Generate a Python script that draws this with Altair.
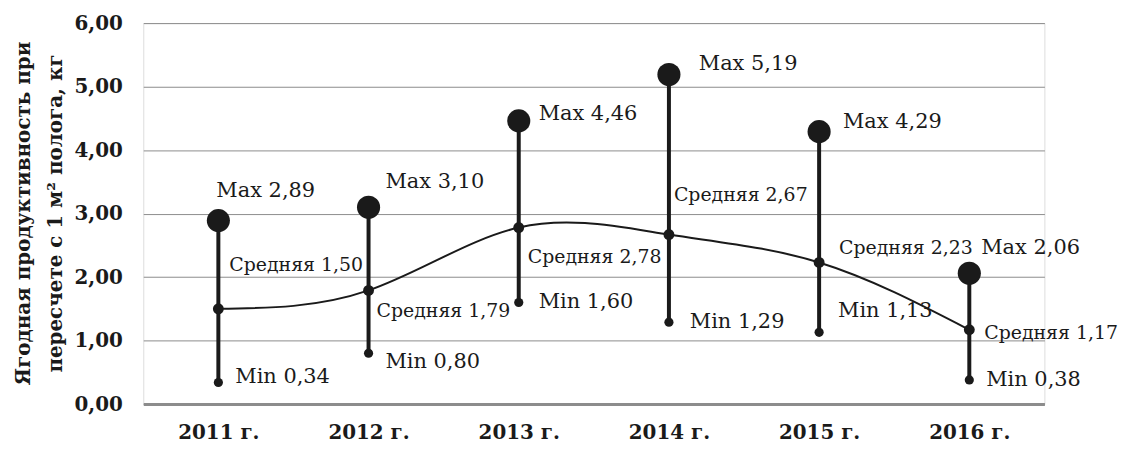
import altair as alt
import pandas as pd

years = ["2011 г.", "2012 г.", "2013 г.", "2014 г.", "2015 г.", "2016 г."]
max_vals = [2.89, 3.10, 4.46, 5.19, 4.29, 2.06]
mean_vals = [1.50, 1.79, 2.78, 2.67, 2.23, 1.17]
min_vals = [0.34, 0.80, 1.60, 1.29, 1.13, 0.38]
y_ticks = [0, 1, 2, 3, 4, 5, 6]


def fmt(v):
    return f"{v:.2f}".replace(".", ",")


df = pd.DataFrame({
    "year": years,
    "max": max_vals,
    "mean": mean_vals,
    "min": min_vals,
    "max_lbl": [f"Max {fmt(v)}" for v in max_vals],
    "mean_lbl": [f"Средняя {fmt(v)}" for v in mean_vals],
    "min_lbl": [f"Min {fmt(v)}" for v in min_vals],
})

INK = "#1a1a1a"
SERIF = "DejaVu Serif"

x_enc = alt.X(
    "year:N",
    sort=years,
    scale=alt.Scale(type="point", padding=0.5),
    axis=alt.Axis(
        title=None, labelAngle=0, ticks=False, domain=True,
        domainColor="#8c8c8c", domainWidth=3,
        labelFont=SERIF, labelFontWeight="bold", labelFontSize=20,
        labelColor=INK, labelPadding=19, labelBaseline="top",
    ),
)
y_scale = alt.Scale(domain=[0, 6], nice=False)
y_axis = alt.Axis(
    values=y_ticks,
    title=["Ягодная продуктивность при", "пересчете с 1 м² полога, кг"],
    titleFont=SERIF, titleFontWeight="bold", titleFontSize=20,
    titleColor=INK, titleLineHeight=32, titleX=-130, titleY=191,
    titleAlign="center", titleBaseline="top", titleAngle=-90,
    labelExpr="replace(format(datum.value, '.2f'), '.', ',')",
    labelFont=SERIF, labelFontWeight="bold", labelFontSize=20,
    labelColor=INK, labelPadding=21,
    ticks=False, domain=False, grid=True,
    gridColor="#8c8c8c", gridWidth=1,
)

base = alt.Chart(df)

rules = base.mark_rule(color=INK, strokeWidth=4).encode(
    x=x_enc,
    y=alt.Y("min:Q", scale=y_scale, axis=y_axis),
    y2="max:Q",
)
curve = base.mark_line(color=INK, strokeWidth=2, interpolate="natural").encode(
    x=x_enc, y=alt.Y("mean:Q", scale=y_scale)
)
max_pts = base.mark_circle(color=INK, opacity=1, size=540).encode(
    x=x_enc, y=alt.Y("max:Q", scale=y_scale)
)
mean_pts = base.mark_circle(color=INK, opacity=1, size=120).encode(
    x=x_enc, y=alt.Y("mean:Q", scale=y_scale)
)
min_pts = base.mark_circle(color=INK, opacity=1, size=85).encode(
    x=x_enc, y=alt.Y("min:Q", scale=y_scale)
)

# label offsets (dx, dy) per year, as placed in the original
offsets = {
    "max": [(-2, -30), (17, -25), (20, -7), (30, -11), (24, -10), (12, -25)],
    "mean": [(11, -44), (8, 21), (9, 30), (5, -40), (20, -15), (15, 3)],
    "min": [(17, -5), (17, 9), (20, 0), (21, 0), (19, -21), (17, 0)],
}
font_sizes = {"max": 21, "mean": 19, "min": 21}

text_layers = []
for key in ["max", "mean", "min"]:
    for i, yr in enumerate(years):
        dx, dy = offsets[key][i]
        t = base.transform_filter(alt.datum.year == yr).mark_text(
            align="left", baseline="middle", dx=dx, dy=dy,
            font=SERIF, fontSize=font_sizes[key], color=INK,
        ).encode(
            x=x_enc,
            y=alt.Y(f"{key}:Q", scale=y_scale),
            text=f"{key}_lbl:N",
        )
        text_layers.append(t)

chart = alt.layer(rules, curve, max_pts, mean_pts, min_pts, *text_layers).properties(
    width=906,
    height=383,
    autosize=alt.AutoSizeParams(type="none"),
    padding={"left": 136, "top": 14, "right": 75, "bottom": 45},
).configure_view(stroke=None).configure(background="white")

chart.save("out.html", embed_options={"renderer": "svg", "actions": False})
